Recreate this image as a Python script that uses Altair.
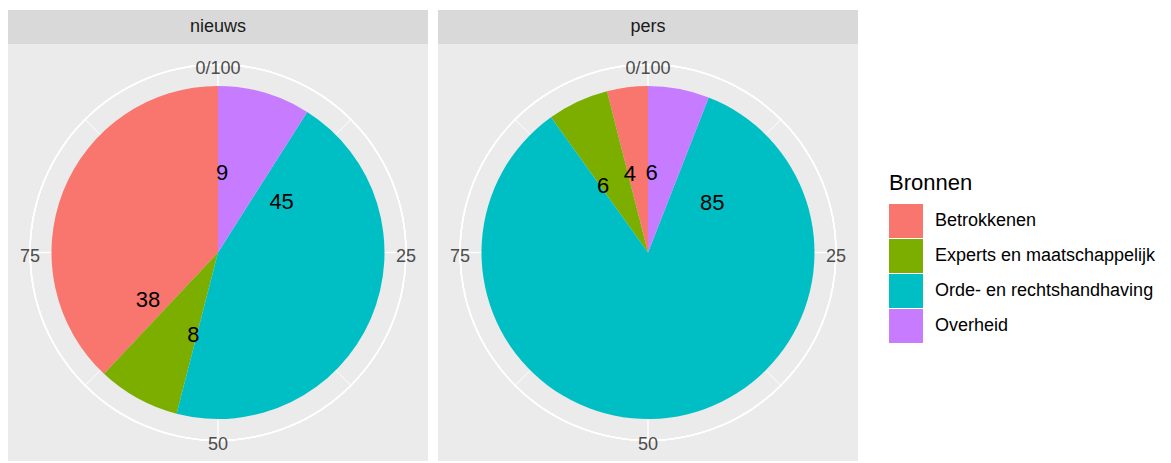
import math
import altair as alt
import pandas as pd

# ---- data ----
facets = ["nieuws", "pers"]
sources = ["Betrokkenen", "Experts en maatschappelijk",
           "Orde- en rechtshandhaving", "Overheid"]
colors = ["#F8766D", "#7CAE00", "#00BFC4", "#C77CFF"]

nieuws_values = [38, 8, 45, 9]
pers_values = [4, 6, 85, 6]

# where the number labels sit around the circle (percent of the turn)
nieuws_label_at = [66.0, 54.8, 13.9, 0.8]
pers_label_at = [96.5, 90.9, 14.1, 0.7]

axis_breaks = [0, 25, 50, 75]
axis_labels = ["0/100", "25", "50", "75"]
minor_breaks = [12.5, 37.5, 62.5, 87.5]

values = {"nieuws": nieuws_values, "pers": pers_values}
label_at = {"nieuws": nieuws_label_at, "pers": pers_label_at}

rows = []
for f in facets:
    for i, s in enumerate(sources):
        rows.append({"facet": f, "source": s, "value": values[f][i],
                     "label_at": label_at[f][i],
                     "ord": len(sources) - 1 - i})
df = pd.DataFrame(rows)

ticks_df = pd.DataFrame({"at": axis_breaks, "label": axis_labels})
major_df = pd.DataFrame({"at": axis_breaks})
minor_df = pd.DataFrame({"at": minor_breaks})

TAU = 2 * math.pi
PW, PH = 420, 417
R_PIE = 166.5
R_AXIS = 188
FONT = "Liberation Sans"

pct_scale = alt.Scale(domain=[0, 100], range=[0, TAU])
color_scale = alt.Scale(domain=sources, range=colors)


def spokes(data, halfw):
    return (
        alt.Chart(data)
        .transform_calculate(t0=f"datum.at - {halfw}", t1=f"datum.at + {halfw}")
        .mark_arc(radius=R_AXIS, color="white")
        .encode(theta=alt.Theta("t0:Q", scale=pct_scale),
                theta2=alt.Theta2("t1:Q"))
    )


def panel(f):
    sub = df[df.facet == f]
    ring = alt.Chart(ticks_df).mark_arc(
        theta=0, theta2=TAU, radius=R_AXIS + 0.7, radius2=R_AXIS - 0.7
    ).encode(color=alt.value("white"))
    major = spokes(major_df, 0.06)
    minor = spokes(minor_df, 0.035)
    pie = alt.Chart(sub).mark_arc(radius=R_PIE).encode(
        theta=alt.Theta("value:Q", stack=True),
        color=alt.Color("source:N", scale=color_scale,
                        legend=alt.Legend(title="Bronnen")),
        order=alt.Order("ord:Q", sort="ascending"),
    )
    labels = alt.Chart(sub).mark_text(
        radius=83, dy=3, fontSize=22, color="black", font=FONT
    ).encode(
        theta=alt.Theta("label_at:Q", scale=pct_scale),
        text=alt.Text("value:Q"),
    )
    tick_text = alt.Chart(ticks_df).mark_text(
        radius=R_AXIS, dy=4, fontSize=18, color="#4D4D4D", font=FONT
    ).encode(
        theta=alt.Theta("at:Q", scale=pct_scale),
        text=alt.Text("label:N"),
    )
    body = (
        alt.layer(minor, major, ring, pie, labels, tick_text)
        .resolve_scale(theta="independent")
        .properties(width=PW, height=PH,
                    view=alt.ViewBackground(fill="#EBEBEB", strokeWidth=0))
    )
    strip = (
        alt.Chart(pd.DataFrame({"facet": [f]}))
        .mark_text(fontSize=18, color="#1A1A1A", font=FONT, baseline="middle")
        .encode(text="facet:N", x=alt.value(PW / 2), y=alt.value(17))
        .properties(width=PW, height=34,
                    view=alt.ViewBackground(fill="#D9D9D9", strokeWidth=0))
    )
    return alt.vconcat(strip, body, spacing=0).resolve_scale(theta="independent")


chart = (
    alt.hconcat(panel("nieuws"), panel("pers"), spacing=10)
    .resolve_scale(theta="independent", color="shared")
    .properties(padding={"left": 8, "top": 10, "right": 0, "bottom": 0})
    .configure(font=FONT)
    .configure_view(strokeWidth=0)
    .configure_legend(
        orient="none", legendX=881, legendY=163,
        titleFontSize=22, titleFontWeight="normal", titleColor="black",
        titlePadding=9, titleFont=FONT,
        labelFontSize=18, labelColor="black", labelFont=FONT, labelLimit=400,
        symbolType="square", symbolSize=34 * 34, symbolStrokeWidth=0,
        symbolOpacity=1, rowPadding=1, labelOffset=12,
    )
)

chart.save("out.html", embed_options={"renderer": "svg", "actions": False})
